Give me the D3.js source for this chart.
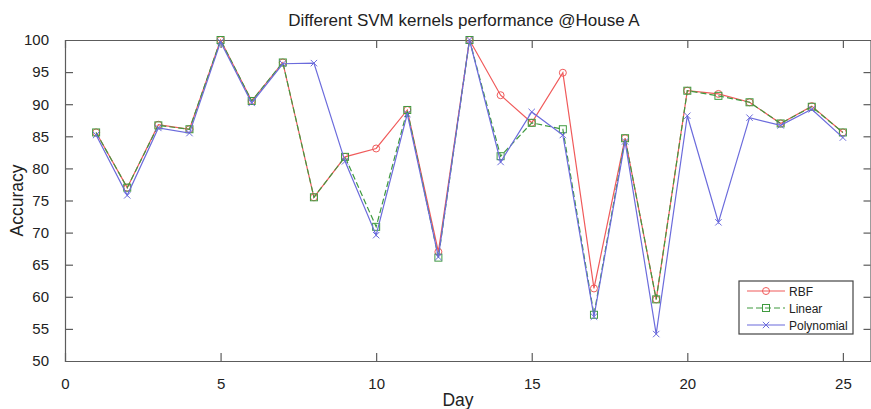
<!DOCTYPE html>
<html>
<head>
<meta charset="utf-8">
<script src="https://cdn.jsdelivr.net/npm/d3@7"></script>
<style>
  body { margin: 0; background: #fff; }
  text { font-family: "Liberation Sans", Arial, sans-serif; fill: #222; }
</style>
</head>
<body>
<svg id="chart"></svg>
<script>
// Data
const days = [1, 2, 3, 4, 5, 6, 7, 8, 9, 10, 11, 12, 13, 14, 15, 16, 17, 18, 19, 20, 21, 22, 23, 24, 25];
const rbf = [85.6, 77.0, 86.8, 86.1, 100, 90.5, 96.5, 75.5, 81.8, 83.1, 89.1, 67.0, 100, 91.4, 87.1, 94.9, 61.3, 84.7, 59.6, 92.1, 91.6, 90.3, 87.0, 89.7, 85.6];
const linear = [85.6, 77.0, 86.7, 86.1, 100, 90.5, 96.5, 75.5, 81.8, 70.9, 89.1, 66.1, 100, 81.9, 87.1, 86.1, 57.2, 84.7, 59.6, 92.1, 91.3, 90.3, 87.0, 89.6, 85.6];
const polynomial = [85.2, 75.8, 86.3, 85.5, 99.7, 90.2, 96.3, 96.4, 81.1, 69.6, 88.5, 66.2, 100, 81.0, 88.8, 85.2, 56.9, 84.2, 54.2, 88.2, 71.6, 87.9, 86.7, 89.2, 84.8];
const xTicks = [0, 5, 10, 15, 20, 25];
const yTicks = [50, 55, 60, 65, 70, 75, 80, 85, 90, 95, 100];

const width = 871;
const height = 409;
const margin = { top: 40, bottom: 48, left: 65 };

const svg = d3.select("#chart")
  .attr("width", width)
  .attr("height", height);

svg.append("rect").attr("width", width).attr("height", height).attr("fill", "#fff");

// the plot box runs a little past the right edge of the picture
const x = d3.scaleLinear().domain([0, 26]).range([margin.left, 874]);
const y = d3.scaleLinear().domain([50, 100]).range([height - margin.bottom, margin.top]);

const axisColor = "#5c5c5c";
const tickLen = 8;

// Axes (box style, ticks inward)
const bottomAxis = svg.append("g")
  .attr("transform", `translate(0,${y(50)})`)
  .call(d3.axisBottom(x).tickValues(xTicks).tickSize(-tickLen).tickPadding(17));
const topAxis = svg.append("g")
  .attr("transform", `translate(0,${y(100)})`)
  .call(d3.axisTop(x).tickValues(xTicks).tickSize(-tickLen).tickFormat(""));
const leftAxis = svg.append("g")
  .attr("transform", `translate(${x(0)},0)`)
  .call(d3.axisLeft(y).tickValues(yTicks).tickSize(-tickLen).tickPadding(16));
const rightAxis = svg.append("g")
  .attr("transform", `translate(${width - 0.5},0)`)
  .call(d3.axisRight(y).tickValues(yTicks).tickSize(-7).tickFormat(""));

[bottomAxis, topAxis, leftAxis, rightAxis].forEach(g => {
  g.select(".domain").attr("stroke", axisColor).attr("stroke-width", 1.2);
  g.selectAll(".tick line").attr("stroke", axisColor).attr("stroke-width", 1.2);
  g.selectAll(".tick text").attr("font-size", 15).attr("fill", "#222")
    .attr("font-family", "'Liberation Sans', Arial, sans-serif");
});
// ticks that would sit on the box itself
bottomAxis.selectAll(".tick line").filter(d => d === 0).remove();
topAxis.selectAll(".tick line").filter(d => d === 0).remove();
leftAxis.selectAll(".tick line").filter(d => d === 50 || d === 100).remove();
rightAxis.selectAll(".tick line").filter(d => d === 50 || d === 100).remove();

// Titles
svg.append("text")
  .attr("x", 464).attr("y", 26)
  .attr("text-anchor", "middle")
  .attr("font-size", 17)
  .text("Different SVM kernels performance @House A");

svg.append("text")
  .attr("x", 458).attr("y", 406)
  .attr("text-anchor", "middle")
  .attr("font-size", 17.5)
  .text("Day");

svg.append("text")
  .attr("transform", `translate(23,${(y(50) + y(100)) / 2}) rotate(-90)`)
  .attr("text-anchor", "middle")
  .attr("font-size", 17.5)
  .text("Accuracy");

// Series
const series = [
  { name: "RBF", values: rbf, color: "#f05a5a", dash: null, marker: "circle" },
  { name: "Linear", values: linear, color: "#3f9a3f", dash: "6,3", marker: "square" },
  { name: "Polynomial", values: polynomial, color: "#6b6bdc", dash: null, marker: "x" }
];

const line = d3.line().x((d, i) => x(days[i])).y(d => y(d));

function drawMarker(g, type, cx, cy, color) {
  if (type === "circle") {
    g.append("circle").attr("cx", cx).attr("cy", cy).attr("r", 3.5)
      .attr("fill", "none").attr("stroke", color).attr("stroke-width", 1);
  } else if (type === "square") {
    g.append("rect").attr("x", cx - 3.5).attr("y", cy - 3.5)
      .attr("width", 7).attr("height", 7)
      .attr("fill", "none").attr("stroke", color).attr("stroke-width", 1);
  } else {
    const s = 3.2;
    g.append("path")
      .attr("d", `M${cx - s},${cy - s}L${cx + s},${cy + s}M${cx - s},${cy + s}L${cx + s},${cy - s}`)
      .attr("stroke", color).attr("stroke-width", 1);
  }
}

series.forEach(s => {
  const g = svg.append("g");
  g.append("path")
    .datum(s.values)
    .attr("d", line)
    .attr("fill", "none")
    .attr("stroke", s.color)
    .attr("stroke-width", 1.2)
    .attr("stroke-dasharray", s.dash);
  s.values.forEach((v, i) => drawMarker(g, s.marker, x(days[i]), y(v), s.color));
});

// Legend
const legend = svg.append("g");
legend.append("rect")
  .attr("x", 739).attr("y", 281).attr("width", 114).attr("height", 53)
  .attr("fill", "#fff").attr("stroke", "#444").attr("stroke-width", 1.2);

series.forEach((s, i) => {
  const ly = 291 + i * 17;
  legend.append("line")
    .attr("x1", 747).attr("x2", 785).attr("y1", ly).attr("y2", ly)
    .attr("stroke", s.color).attr("stroke-width", 1.2)
    .attr("stroke-dasharray", s.dash);
  drawMarker(legend, s.marker, 766, ly, s.color);
  legend.append("text")
    .attr("x", 789).attr("y", ly + 4.5)
    .attr("font-size", 12)
    .text(s.name);
});
</script>
</body>
</html>
